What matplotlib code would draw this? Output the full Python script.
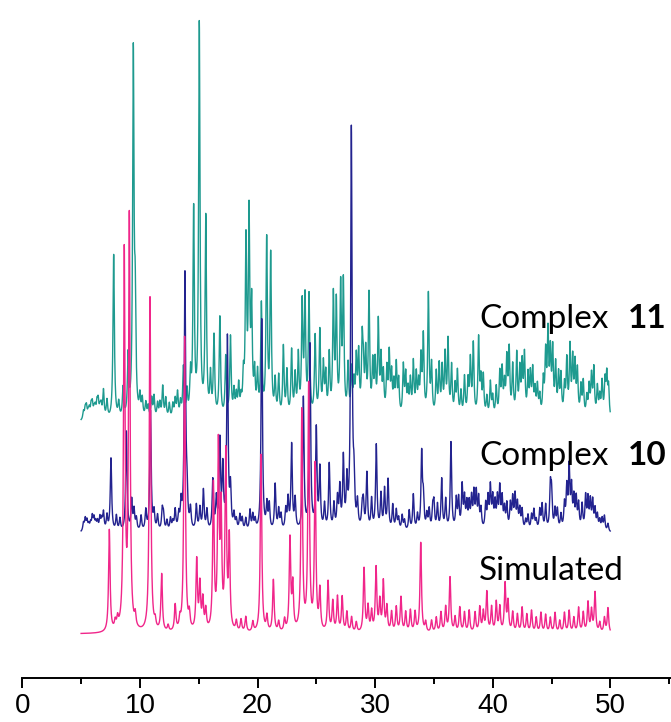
import numpy as np
import matplotlib
matplotlib.use("Agg")
import matplotlib.pyplot as plt

# peak positions (2-theta, deg) and heights above each trace's baseline
sim_pos = [7.4, 7.9, 8.1, 8.67, 9.1, 9.6, 10.86, 11.3, 11.85, 12.4, 13.0, 13.4,
           13.8, 14.2, 14.83, 15.1, 15.35, 15.6, 16.25, 16.67, 16.9, 17.3, 17.6,
           18.2, 18.6, 19.0, 19.6, 20.3, 20.8, 21.35, 21.8, 22.3, 22.76, 23.0,
           23.76, 24.35, 24.9, 25.3, 26.0, 26.4, 26.8, 27.2, 27.6, 28.0, 28.4,
           29.06, 29.4, 29.7, 30.08, 30.4, 30.7, 31.0, 31.4, 31.8, 32.2, 32.6,
           33.0, 33.4, 33.88, 34.3, 34.8, 35.2, 35.6, 36.0, 36.37, 36.8, 37.2,
           37.6, 38.0, 38.5, 38.9, 39.2, 39.5, 39.9, 40.3, 40.6, 41.05, 41.3,
           41.7, 42.1, 42.5, 42.9, 43.3, 43.7, 44.1, 44.5, 44.9, 45.3, 45.7,
           46.1, 46.5, 46.9, 47.3, 47.7, 48.1, 48.4, 48.7, 49.1, 49.5, 49.8]
sim_int = [102, 8, 10, 376, 411, 12, 335, 8, 57, 6, 26, 10,
           295, 15, 70, 45, 30, 20, 144, 180, 115, 175, 90,
           10, 12, 15, 10, 178, 15, 52, 10, 12, 92, 45,
           220, 245, 165, 40, 50, 30, 35, 35, 20, 15, 10,
           64, 25, 20, 64, 30, 50, 25, 20, 25, 35, 20,
           22, 20, 90, 10, 12, 15, 20, 25, 55, 15, 25,
           20, 22, 20, 25, 20, 40, 25, 30, 25, 48, 30,
           20, 18, 25, 18, 22, 15, 20, 18, 15, 20, 12,
           20, 22, 15, 25, 20, 30, 22, 40, 10, 15, 25]

c10_pos = [5.2, 5.5, 5.8, 6.1, 6.4, 6.6, 6.9, 7.54, 8.0, 8.3, 8.85, 9.3, 9.7,
           10.9, 11.5, 11.9, 12.3, 12.8, 13.3, 13.83, 14.3, 14.8, 15.1, 15.4,
           16.2, 16.8, 17.05, 17.44, 17.7, 18.2, 18.7, 19.36, 19.8, 20.36, 20.8,
           21.5, 22.0, 22.4, 22.9, 23.2, 23.9, 24.46, 25.0, 25.3, 25.7, 26.1,
           26.5, 27.0, 27.3, 27.6, 27.98, 28.5, 28.9, 29.3, 29.7, 30.1, 30.5,
           30.8, 31.1, 31.5, 32.0, 32.5, 32.9, 33.25, 33.6, 33.96, 34.4, 34.9,
           35.3, 35.66, 36.0, 36.45, 36.9, 37.4, 37.8, 38.2, 38.6, 39.0, 39.4,
           39.8, 40.2, 40.6, 41.0, 41.5, 41.9, 42.3, 42.8, 43.3, 43.7, 44.2,
           44.9, 45.3, 45.8, 46.1, 46.5, 46.9, 47.3, 47.9, 48.3, 48.7, 49.1,
           49.5, 49.8]
c10_int = [8, 10, 7, 12, 9, 13, 18, 73, 15, 12, 100, 30, 12,
           120, 15, 20, 10, 8, 15, 255, 20, 25, 22, 40,
           50, 88, 60, 192, 40, 10, 12, 20, 10, 212, 25,
           46, 15, 20, 85, 30, 132, 185, 100, 60, 25, 66,
           25, 40, 70, 45, 400, 25, 20, 56, 30, 85, 35,
           40, 50, 25, 12, 10, 20, 36, 15, 76, 15, 20,
           25, 51, 30, 88, 30, 43, 25, 30, 35, 20, 25,
           41, 25, 40, 20, 25, 33, 20, 10, 15, 10, 25,
           41, 20, 15, 25, 60, 30, 25, 33, 28, 20, 10,
           15, 8]
# small background features of the complex 10 pattern
c10_minor_pos = [5.35, 5.65, 5.95, 6.25, 6.75, 7.2, 9.5, 10.1, 10.5, 11.2,
                 12.0, 12.6, 13.0, 13.5, 14.0, 15.7, 16.5, 18.0, 18.5, 19.0,
                 19.6, 21.0, 21.8, 22.6, 26.8, 28.2, 29.0, 31.8, 32.3, 34.1,
                 34.6, 35.0, 37.1, 37.6, 38.0, 38.4, 38.8, 39.6, 40.0, 40.4,
                 40.8, 41.2, 41.7, 42.1, 42.5, 43.0, 43.5, 44.0, 44.5, 45.0,
                 45.5, 46.3, 46.7, 47.1, 47.6, 48.1, 48.5, 48.9, 49.3]
c10_minor_int = [12, 6, 14, 8, 10, 15, 20, 15, 20, 18,
                 15, 12, 20, 25, 30, 20, 30, 15, 15, 12,
                 15, 25, 20, 30, 30, 40, 25, 20, 15, 30,
                 20, 25, 30, 30, 25, 35, 30, 30, 30, 30,
                 30, 25, 30, 25, 20, 15, 20, 20, 25, 35,
                 20, 40, 40, 30, 25, 30, 28, 15, 12]

c11_pos = [5.2, 5.45, 5.7, 5.95, 6.2, 6.45, 6.7, 6.9, 7.77, 8.2, 8.57, 9.0,
           9.44, 9.6, 10.0, 10.5, 11.0, 11.5, 11.94, 12.5, 13.2, 13.7, 14.57,
           15.05, 15.6, 16.3, 16.8, 17.3, 17.7, 18.2, 18.6, 19.02, 19.28, 19.5,
           20.0, 20.33, 20.78, 21.12, 21.5, 22.2, 22.9, 23.47, 23.8, 24.04,
           24.38, 24.9, 25.3, 25.8, 26.45, 26.7, 27.07, 27.3, 27.7, 28.2, 28.6,
           29.0, 29.48, 29.8, 30.27, 30.7, 31.2, 31.6, 32.0, 32.4, 32.8, 33.25,
           33.7, 34.1, 34.53, 35.2, 35.7, 36.2, 36.8, 37.3, 37.9, 38.35, 38.8,
           39.5, 40.0, 40.6, 41.0, 41.4, 42.04, 42.7, 43.2, 43.6, 44.0, 44.7,
           45.1, 45.6, 46.1, 46.57, 47.0, 47.5, 48.0, 48.6, 49.1, 49.55, 49.85]
c11_int = [8, 12, 9, 14, 10, 16, 12, 28, 165, 15, 30, 60,
           360, 100, 20, 15, 20, 15, 32, 15, 25, 50, 205,
           392, 198, 80, 100, 60, 80, 20, 15, 170, 196, 105,
           40, 110, 175, 160, 35, 70, 66, 60, 110, 115,
           120, 80, 85, 40, 118, 110, 126, 130, 50, 30, 60,
           40, 120, 50, 92, 40, 60, 30, 35, 50, 25, 53,
           30, 78, 122, 43, 47, 75, 30, 25, 35, 72, 78,
           20, 20, 43, 30, 65, 62, 60, 40, 25, 20, 80,
           64, 40, 30, 68, 50, 30, 20, 48, 20, 35, 30]
# small background features of the complex 11 pattern
c11_minor_pos = [5.35, 5.6, 5.85, 6.1, 6.35, 6.6, 7.2, 10.2, 10.7, 11.2,
                 11.7, 12.2, 12.8, 13.0, 13.45, 14.0, 14.3, 16.0, 18.0, 18.4,
                 18.8, 19.75, 21.8, 22.5, 23.2, 25.6, 26.1, 28.0, 28.4, 28.9,
                 29.2, 30.0, 30.5, 31.0, 31.4, 31.8, 32.6, 33.0, 33.5, 33.9,
                 34.8, 35.45, 35.95, 36.5, 37.0, 37.6, 38.1, 39.0, 39.2, 39.8,
                 40.3, 40.8, 41.2, 41.7, 42.3, 42.5, 43.0, 43.4, 43.8, 44.3,
                 44.5, 44.9, 45.35, 45.8, 46.3, 46.8, 47.2, 47.7, 48.2, 48.4,
                 48.9, 49.3, 49.7]
c11_minor_int = [10, 6, 12, 8, 14, 9, 18, 18, 12, 22,
                 15, 20, 14, 18, 15, 25, 40, 40, 25, 30,
                 35, 40, 40, 45, 40, 50, 60, 45, 55, 70,
                 60, 50, 55, 45, 40, 50, 40, 35, 40, 55,
                 50, 50, 60, 50, 45, 40, 55, 35, 40, 35,
                 30, 45, 55, 50, 45, 50, 40, 45, 30, 35,
                 60, 60, 50, 40, 55, 55, 45, 35, 30, 40,
                 30, 35, 40]

# vertical offsets of the stacked traces
sim_base = 44
c10_base = 145
c11_base = 256


def pattern(pos, inten, base, hw):
    tt = np.arange(5.0, 50.0, 0.01)
    y = np.full_like(tt, float(base))
    for c, h in zip(pos, inten):
        y += h / (1.0 + ((tt - c) / hw) ** 2)
    return tt, y


fig = plt.figure(figsize=(6.71, 7.22), dpi=100)
ax = fig.add_axes([22.3 / 671, 44 / 722, 1 - 22.3 / 671, 1 - 44 / 722])

tt, y11 = pattern(c11_pos + c11_minor_pos, c11_int + c11_minor_int, c11_base, 0.07)
ax.plot(tt, y11, color="#1e9a8f", lw=1.0)
tt, y10 = pattern(c10_pos + c10_minor_pos, c10_int + c10_minor_int, c10_base, 0.07)
ax.plot(tt, y10, color="#23238f", lw=1.0)
tt, ys = pattern(sim_pos, sim_int, sim_base, 0.075)
ax.plot(tt, ys, color="#f0268a", lw=1.0)

ax.set_xlim(0, 55.16)
ax.set_ylim(0, 678)
for s in ["top", "right", "left"]:
    ax.spines[s].set_visible(False)
ax.spines["bottom"].set_linewidth(1.4)
ax.set_yticks([])
ax.set_xticks(np.arange(0, 51, 10))
ax.set_xticks(np.arange(5, 56, 10), minor=True)
ax.tick_params(axis="x", which="major", length=7, width=1.4, pad=4,
               labelsize=20)
ax.tick_params(axis="x", which="minor", length=4, width=1.4)
for lab in ax.get_xticklabels():
    lab.set_fontfamily("Liberation Sans")

labels = [("Complex", "11", 328), ("Complex", "10", 465), ("Simulated", "", 580)]
for word, num, ypix in labels:
    fig.text(479 / 671, 1 - ypix / 722, word, fontsize=24, family="Lato",
             va="baseline", ha="left")
    if num:
        fig.text(667 / 671, 1 - ypix / 722, num, fontsize=24, family="Lato",
                 fontweight="bold", va="baseline", ha="right")

fig.savefig("out.png", dpi=100)
